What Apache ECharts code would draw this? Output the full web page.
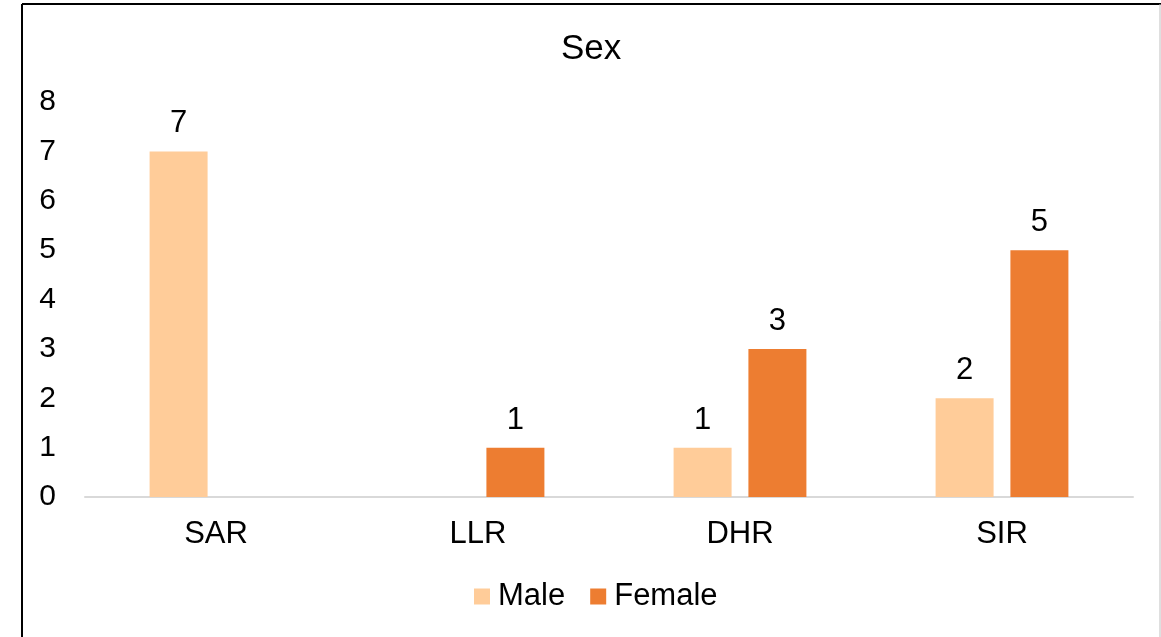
<!DOCTYPE html>
<html>
<head>
<meta charset="utf-8">
<style>
  html, body { margin: 0; padding: 0; background: #fff; }
  #chart { width: 1161px; height: 637px; }
</style>
<script src="https://cdn.jsdelivr.net/npm/echarts@6/dist/echarts.min.js"></script>
</head>
<body>
<div id="chart"></div>
<script>
const categories = ['SAR', 'LLR', 'DHR', 'SIR'];
const maleValues = [7, null, 1, 2];
const femaleValues = [null, 1, 3, 5];
const yTicks = [0, 1, 2, 3, 4, 5, 6, 7, 8];

const FONT = 'Liberation Sans, Arial, sans-serif';
const chart = echarts.init(document.getElementById('chart'), null, { renderer: 'canvas' });

const labelStyle = {
  show: true,
  position: 'top',
  distance: 12,
  color: '#000',
  fontFamily: FONT,
  fontSize: 31
};

chart.setOption({
  backgroundColor: '#fff',
  animation: false,
  title: {
    text: 'Sex',
    left: 556,
    top: 27,
    textStyle: { fontFamily: FONT, fontSize: 35, fontWeight: 'normal', color: '#000' }
  },
  legend: {
    bottom: 20,
    left: 469,
    itemWidth: 16,
    itemHeight: 16,
    itemGap: 25,
    icon: 'rect',
    textStyle: { fontFamily: FONT, fontSize: 31, color: '#000', padding: [0, 0, 0, 3] },
    data: ['Male', 'Female']
  },
  grid: { left: 85, right: 28, top: 102, bottom: 140, containLabel: false },
  xAxis: {
    type: 'category',
    data: categories,
    axisLine: { show: true, lineStyle: { color: '#D9D9D9', width: 2 } },
    axisTick: { show: false },
    axisLabel: { color: '#000', fontFamily: FONT, fontSize: 31, margin: 22 }
  },
  yAxis: {
    type: 'value',
    min: yTicks[0],
    max: yTicks[yTicks.length - 1],
    interval: 1,
    axisLine: { show: false },
    axisTick: { show: false },
    splitLine: { show: false },
    axisLabel: { color: '#000', fontFamily: FONT, fontSize: 30, margin: 29 }
  },
  series: [
    {
      name: 'Male',
      type: 'bar',
      data: maleValues,
      barWidth: 58,
      barGap: '29%',
      itemStyle: { color: '#FFCC99' },
      label: labelStyle
    },
    {
      name: 'Female',
      type: 'bar',
      data: femaleValues,
      barWidth: 58,
      barGap: '29%',
      itemStyle: { color: '#ED7D31' },
      label: labelStyle
    }
  ],
  graphic: [
    { type: 'line', shape: { x1: 22, y1: 4, x2: 1161, y2: 4 }, style: { stroke: '#000', lineWidth: 2 } },
    { type: 'line', shape: { x1: 22, y1: 4, x2: 22, y2: 637 }, style: { stroke: '#000', lineWidth: 2 } },
    { type: 'line', shape: { x1: 1160, y1: 4, x2: 1160, y2: 637 }, style: { stroke: '#BFBFBF', lineWidth: 1 } }
  ]
});
</script>
</body>
</html>
